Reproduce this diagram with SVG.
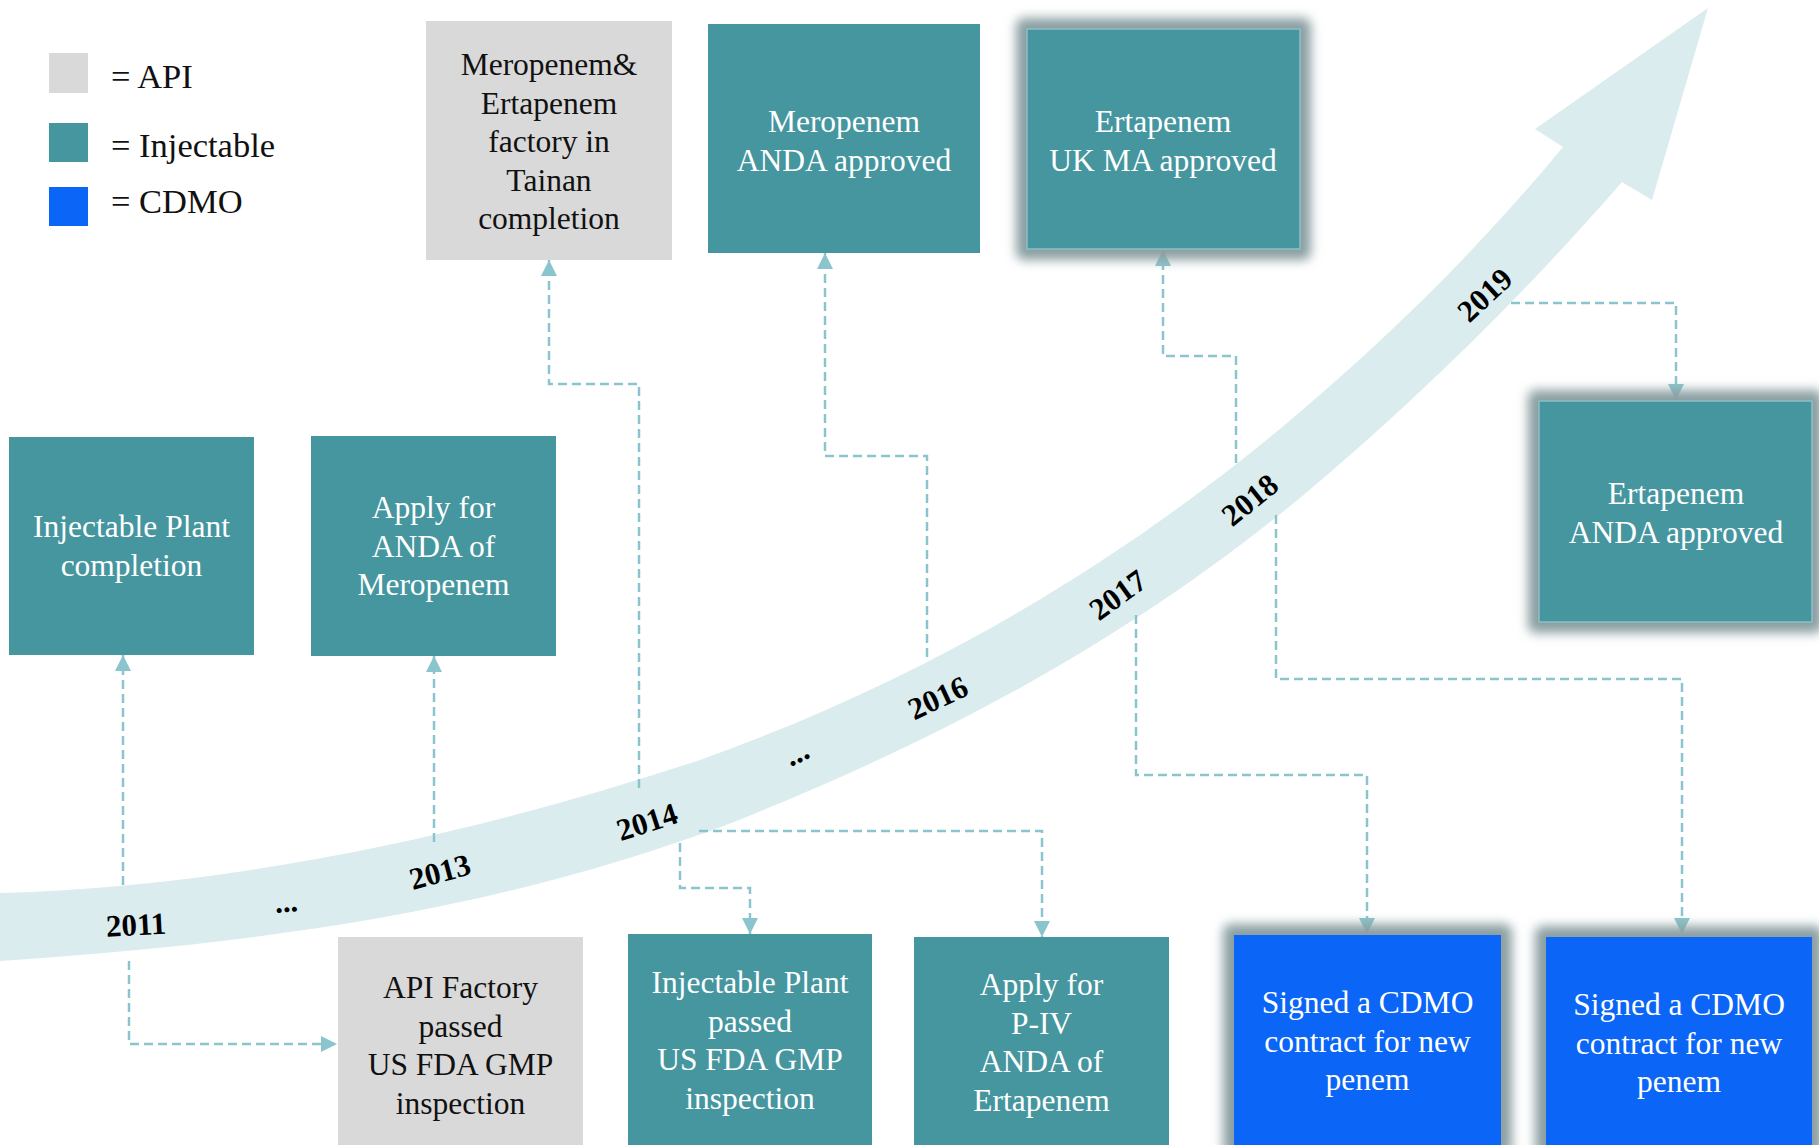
<svg xmlns="http://www.w3.org/2000/svg" width="1819" height="1145" viewBox="0 0 1819 1145">
<style>
  .txt { font-family: "Liberation Serif", "Times New Roman", serif; font-size: 31.5px; text-anchor: middle; }
  .w { fill: #ffffff; }
  .k { fill: #111111; }
  .teal { fill: #45969f; }
  .gray { fill: #d9d9d9; }
  .blue { fill: #0b65f6; }
  .glowbox { stroke: #8fbfc5; stroke-width: 1.5; }
  .shadow { fill: #8a9fa2; filter: url(#blur); }
  .legend { font-family: "Liberation Serif", "Times New Roman", serif; font-size: 34.5px; fill: #111111; }
  .year { font-family: "Liberation Serif", "Times New Roman", serif; font-size: 31px; font-weight: bold; fill: #000000; text-anchor: middle; }
  .conn { fill: none; stroke: #8ac5cd; stroke-width: 2.5; stroke-dasharray: 9 5; marker-end: url(#arr); }
</style>
<defs>
  <filter id="blur" x="-20%" y="-20%" width="140%" height="140%">
    <feGaussianBlur stdDeviation="5.5"/>
  </filter>
  <marker id="arr" markerUnits="userSpaceOnUse" markerWidth="16" markerHeight="16" refX="16" refY="8" orient="auto">
    <path d="M0,0 L16,8 L0,16 z" fill="#8ac5cd"/>
  </marker>
</defs>
<rect width="1819" height="1145" fill="#ffffff"/>

<g id="legend">
  <rect x="49" y="53" width="39" height="40" class="gray"/>
  <text x="111" y="88" class="legend">= API</text>
  <rect x="49" y="123" width="39" height="39" class="teal"/>
  <text x="111" y="157" class="legend">= Injectable</text>
  <rect x="49" y="187" width="39" height="39" class="blue"/>
  <text x="111" y="213" class="legend">= CDMO</text>
</g>

<g id="timeline">
  <path d="M0,893 C233,886 467,837 700,760 C900,688 1100,582 1300,412 C1388,337 1475,253 1563,147 L1535,129 L1708,8 L1652,200 L1622,182 C1515,305 1407,408 1300,498 C1111,653 923,746 734,822 C489,915 245,944 0,961 Z" fill="#daeced"/>
  <text class="year" transform="translate(136,925) rotate(-3)" dy="0.33em">2011</text>
  <text class="year" transform="translate(287,912) rotate(-5)">...</text>
  <text class="year" transform="translate(440,872) rotate(-15)" dy="0.33em">2013</text>
  <text class="year" transform="translate(647,822) rotate(-18)" dy="0.33em">2014</text>
  <text class="year" transform="translate(801,762) rotate(-26)">...</text>
  <text class="year" transform="translate(938,698) rotate(-25)" dy="0.33em">2016</text>
  <text class="year" transform="translate(1118,595) rotate(-36)" dy="0.33em">2017</text>
  <text class="year" transform="translate(1250,500) rotate(-39)" dy="0.33em">2018</text>
  <text class="year" transform="translate(1485,295) rotate(-43)" dy="0.33em">2019</text>
</g>

<g id="connectors">
  <path class="conn" d="M123,885 L123,655"/>
  <path class="conn" d="M129,961 L129,1044 L337,1044"/>
  <path class="conn" d="M434,842 L434,656"/>
  <path class="conn" d="M639,788 L639,384 L549,384 L549,260"/>
  <path class="conn" d="M680,843 L680,888 L750,888 L750,934"/>
  <path class="conn" d="M699,831 L1042,831 L1042,937"/>
  <path class="conn" d="M927,657 L927,456 L825,456 L825,253"/>
  <path class="conn" d="M1136,615 L1136,775 L1367,775 L1367,934"/>
  <path class="conn" d="M1236,463 L1236,356 L1163,356 L1163,250"/>
  <path class="conn" d="M1276,515 L1276,679 L1682,679 L1682,934"/>
  <path class="conn" d="M1511,303 L1676,303 L1676,400"/>
</g>

<g id="node-meropenem-ertapenem-factory">
  <rect x="426" y="21" width="246" height="239" class="gray"/>
  <text class="txt k"><tspan x="549" y="75">Meropenem&amp;</tspan><tspan x="549" y="113.5">Ertapenem</tspan><tspan x="549" y="152">factory in</tspan><tspan x="549" y="190.5">Tainan</tspan><tspan x="549" y="229">completion</tspan></text>
</g>

<g id="node-meropenem-anda-approved">
  <rect x="708" y="24" width="272" height="229" class="teal"/>
  <text class="txt w"><tspan x="844" y="132">Meropenem</tspan><tspan x="844" y="170.5">ANDA approved</tspan></text>
</g>

<g id="node-ertapenem-uk-ma">
  <rect x="1016" y="18" width="295" height="242" rx="8" class="shadow"/>
  <rect x="1027" y="29" width="273" height="220" class="teal glowbox"/>
  <text class="txt w"><tspan x="1163" y="132">Ertapenem</tspan><tspan x="1163" y="171">UK MA approved</tspan></text>
</g>

<g id="node-ertapenem-anda-approved">
  <rect x="1528" y="390" width="295" height="243" rx="8" class="shadow"/>
  <rect x="1539" y="401" width="273" height="221" class="teal glowbox"/>
  <text class="txt w"><tspan x="1676" y="504">Ertapenem</tspan><tspan x="1676" y="542.5">ANDA approved</tspan></text>
</g>

<g id="node-injectable-plant-completion">
  <rect x="9" y="437" width="245" height="218" class="teal"/>
  <text class="txt w"><tspan x="131.5" y="537">Injectable Plant</tspan><tspan x="131.5" y="576">completion</tspan></text>
</g>

<g id="node-apply-anda-meropenem">
  <rect x="311" y="436" width="245" height="220" class="teal"/>
  <text class="txt w"><tspan x="433.5" y="518">Apply for</tspan><tspan x="433.5" y="556.5">ANDA of</tspan><tspan x="433.5" y="595">Meropenem</tspan></text>
</g>

<g id="node-api-factory-gmp">
  <rect x="338" y="937" width="245" height="208" class="gray"/>
  <text class="txt k"><tspan x="460.5" y="998">API Factory</tspan><tspan x="460.5" y="1036.5">passed</tspan><tspan x="460.5" y="1075">US FDA GMP</tspan><tspan x="460.5" y="1113.5">inspection</tspan></text>
</g>

<g id="node-injectable-plant-gmp">
  <rect x="628" y="934" width="244" height="211" class="teal"/>
  <text class="txt w"><tspan x="750" y="993">Injectable Plant</tspan><tspan x="750" y="1031.5">passed</tspan><tspan x="750" y="1070">US FDA GMP</tspan><tspan x="750" y="1108.5">inspection</tspan></text>
</g>

<g id="node-apply-piv-ertapenem">
  <rect x="914" y="937" width="255" height="208" class="teal"/>
  <text class="txt w"><tspan x="1041.5" y="995">Apply for</tspan><tspan x="1041.5" y="1033.5">P-IV</tspan><tspan x="1041.5" y="1072">ANDA of</tspan><tspan x="1041.5" y="1110.5">Ertapenem</tspan></text>
</g>

<g id="node-cdmo-1">
  <rect x="1223" y="924" width="289" height="232" rx="8" class="shadow"/>
  <rect x="1234" y="935" width="267" height="215" class="blue"/>
  <text class="txt w"><tspan x="1367.5" y="1013">Signed a CDMO</tspan><tspan x="1367.5" y="1051.5">contract for new</tspan><tspan x="1367.5" y="1090">penem</tspan></text>
</g>

<g id="node-cdmo-2">
  <rect x="1535" y="926" width="288" height="230" rx="8" class="shadow"/>
  <rect x="1546" y="937" width="266" height="213" class="blue"/>
  <text class="txt w"><tspan x="1679" y="1015">Signed a CDMO</tspan><tspan x="1679" y="1053.5">contract for new</tspan><tspan x="1679" y="1092">penem</tspan></text>
</g>
</svg>
